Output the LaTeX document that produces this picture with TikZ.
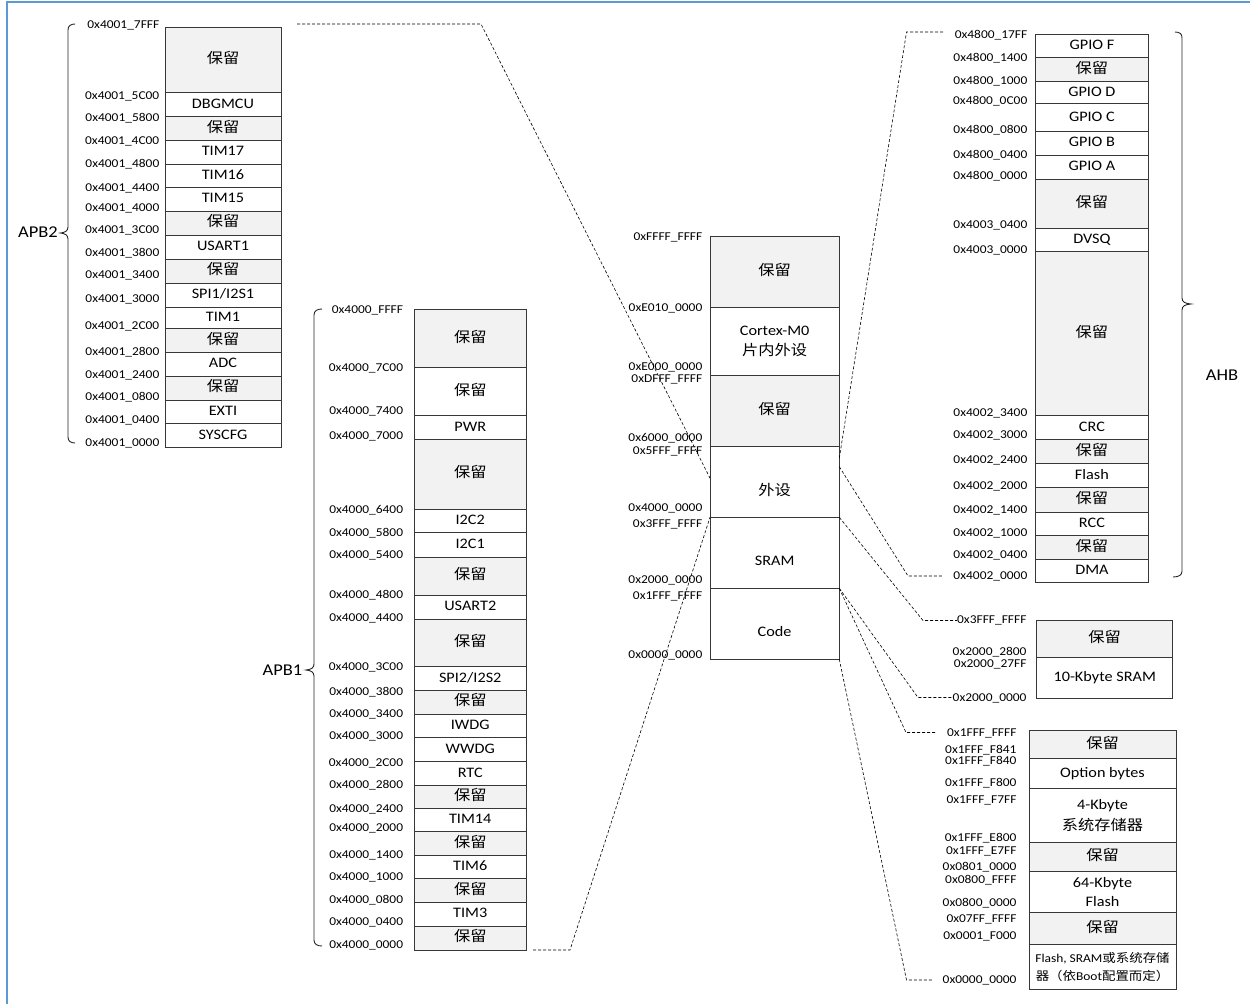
\documentclass[tikz,border=0pt]{standalone}
\usepackage{fontspec}
\usetikzlibrary{calc}
\setmainfont{Carlito}[FakeStretch=1.12]
\newfontfamily\cjkfont{Noto Sans CJK SC}[FakeStretch=1.12]
\newcommand\zh[1]{{\cjkfont #1}}
\newcommand\rsvtxt{\zh{保留}}
\newcommand\spione{SPI1/I2S1}
\newcommand\spitwo{SPI2/I2S2}
\definecolor{rsv}{RGB}{242,242,242}
\definecolor{framec}{RGB}{91,155,213}
\definecolor{edge}{RGB}{55,55,55}
\begin{document}
\begin{tikzpicture}[x=1pt,y=-1pt,
  cell/.style={draw=edge, line width=0.8pt, inner sep=0pt, outer sep=0pt, anchor=north west, align=center, text=black, font=\fontsize{14.5}{20}\selectfont},
  one/.style={text height=10.5pt, text depth=3pt},
  low/.style={text height=29pt, text depth=3pt},
  lab/.style={anchor=east, inner sep=0pt, font=\fontsize{12}{14}\selectfont, text=black},
  bus/.style={inner sep=0pt, font=\fontsize{16.5}{20}\selectfont},
  link/.style={draw=black, line width=0.6pt, dash pattern=on 3pt off 2pt},
  brc/.style={draw=black!85, line width=0.9pt}]
\useasboundingbox (0,0) rectangle (1250,1004);
% frame
\draw[framec, line width=1.6pt] (7,1004) -- (7,2) -- (1250,2);

% ---------------- APB2 ----------------
\foreach \yt/\yb/\fc/\tx [count=\i] in {27/92.7/rsv/\rsvtxt, 92.7/116.7/white/DBGMCU, 116.7/140/rsv/\rsvtxt, 140/164/white/TIM17, 164/187/white/TIM16, 187/211/white/TIM15, 211/235/rsv/\rsvtxt, 235/259/white/USART1, 259/283/rsv/\rsvtxt, 283/307/white/\spione, 307/328.5/white/TIM1, 328.5/352/rsv/\rsvtxt, 352/376/white/ADC, 376/400/rsv/\rsvtxt, 400/423.5/white/EXTI, 423.5/447/white/SYSCFG}
  \node[cell, one, fill=\fc, minimum width=116pt, minimum height={(\yb-\yt)*1pt}] (pb-\i) at (165,\yt) {\tx};
\foreach \yy/\tx [count=\i] in {25/0x4001\_7FFF, 96/0x4001\_5C00, 118/0x4001\_5800, 141.5/0x4001\_4C00, 164.5/0x4001\_4800, 188/0x4001\_4400, 208/0x4001\_4000, 230/0x4001\_3C00, 253/0x4001\_3800, 275/0x4001\_3400, 299/0x4001\_3000, 326/0x4001\_2C00, 352.5/0x4001\_2800, 375/0x4001\_2400, 397/0x4001\_0800, 420/0x4001\_0400, 443.5/0x4001\_0000}
  \node[lab] (lb-\i) at (159.5,\yy) {\tx};
\draw[brc] (75,24) .. controls (70.5,24) and (68,26) .. (68,30) -- (68,227) .. controls (68,231) and (65,232.5) .. (60.5,233) .. controls (65,233.5) and (68,235) .. (68,239) -- (68,437) .. controls (68,441) and (70.5,443) .. (75,443);
\node[bus] (apb2) at (38,232) {APB2};

% ---------------- APB1 ----------------
\foreach \yt/\yb/\fc/\tx [count=\i] in {309.3/367.7/rsv/\rsvtxt, 367.7/415.7/white/\rsvtxt, 415.7/439/white/PWR, 439/509.3/rsv/\rsvtxt, 509.3/532.7/white/I2C2, 532.7/557.3/white/I2C1, 557.3/595/rsv/\rsvtxt, 595/619/white/USART2, 619/666.7/rsv/\rsvtxt, 666.7/690/white/\spitwo, 690/714/rsv/\rsvtxt, 714/737.7/white/IWDG, 737.7/761.3/white/WWDG, 761.3/785.3/white/RTC, 785.3/808.7/rsv/\rsvtxt, 808.7/831.7/white/TIM14, 831.7/855.7/rsv/\rsvtxt, 855.7/878.7/white/TIM6, 878.7/902/rsv/\rsvtxt, 902/926/white/TIM3, 926/950/rsv/\rsvtxt}
  \node[cell, one, fill=\fc, minimum width=112.5pt, minimum height={(\yb-\yt)*1pt}] (pa-\i) at (414,\yt) {\tx};
\foreach \yy/\tx [count=\i] in {310/0x4000\_FFFF, 368.3/0x4000\_7C00, 411/0x4000\_7400, 436.7/0x4000\_7000, 510/0x4000\_6400, 533.3/0x4000\_5800, 555/0x4000\_5400, 595/0x4000\_4800, 618.3/0x4000\_4400, 667.5/0x4000\_3C00, 692/0x4000\_3800, 714.5/0x4000\_3400, 736.7/0x4000\_3000, 763/0x4000\_2C00, 785/0x4000\_2800, 809.5/0x4000\_2400, 828.3/0x4000\_2000, 855/0x4000\_1400, 877.3/0x4000\_1000, 900.2/0x4000\_0800, 922.7/0x4000\_0400, 945/0x4000\_0000}
  \node[lab] (la-\i) at (403.3,\yy) {\tx};
\draw[brc] (322,309) .. controls (317,309) and (314,311) .. (314,315) -- (314,664) .. controls (314,668) and (311,669.5) .. (306,670) .. controls (311,670.5) and (314,672) .. (314,676) -- (314,940) .. controls (314,944) and (317,946) .. (322,946);
\node[bus] (apb1) at (282.5,670) {APB1};

% ---------------- main map ----------------
\node[cell, one, fill=rsv, minimum width=129.3pt, minimum height=70.6pt] (m1) at (710,236.7) {\rsvtxt};
\node[cell, fill=white, minimum width=129.3pt, minimum height=68.4pt] (m2) at (710,307.3) {Cortex-M0\\\zh{片内外设}};
\node[cell, one, fill=rsv, minimum width=129.3pt, minimum height=71pt] (m3) at (710,375.7) {\rsvtxt};
\node[cell, low, fill=white, minimum width=129.3pt, minimum height=70.6pt] (m4) at (710,446.7) {\zh{外设}};
\node[cell, low, fill=white, minimum width=129.3pt, minimum height=71pt] (m5) at (710,517.3) {SRAM};
\node[cell, low, fill=white, minimum width=129.3pt, minimum height=71pt] (m6) at (710,588.3) {Code};
\foreach \yy/\tx [count=\i] in {237.5/0xFFFF\_FFFF, 308.3/0xE010\_0000, 367.5/0xE000\_0000, 379/0xDFFF\_FFFF, 438.3/0x6000\_0000, 451/0x5FFF\_FFFF, 508.3/0x4000\_0000, 524.5/0x3FFF\_FFFF, 580.5/0x2000\_0000, 596.7/0x1FFF\_FFFF, 655.5/0x0000\_0000}
  \node[lab] (lm-\i) at (702.5,\yy) {\tx};

% ---------------- AHB ----------------
\foreach \yt/\yb/\fc/\tx [count=\i] in {34/57.7/white/GPIO F, 57.7/81/rsv/\rsvtxt, 81/103.7/white/GPIO D, 103.7/131/white/GPIO C, 131/155.3/white/GPIO B, 155.3/179/white/GPIO A, 179/228/rsv/\rsvtxt, 228/251.7/white/DVSQ, 251.7/415.7/rsv/\rsvtxt, 415.7/439.3/white/CRC, 439.3/463.3/rsv/\rsvtxt, 463.3/487.3/white/Flash, 487.3/512/rsv/\rsvtxt, 512/535.7/white/RCC, 535.7/559.3/rsv/\rsvtxt, 559.3/582.3/white/DMA}
  \node[cell, one, fill=\fc, minimum width=112.8pt, minimum height={(\yb-\yt)*1pt}] (ph-\i) at (1035.5,\yt) {\tx};
\foreach \yy/\tx [count=\i] in {35/0x4800\_17FF, 58.3/0x4800\_1400, 81.7/0x4800\_1000, 101.7/0x4800\_0C00, 130/0x4800\_0800, 155/0x4800\_0400, 176.7/0x4800\_0000, 225/0x4003\_0400, 250/0x4003\_0000, 413.3/0x4002\_3400, 435/0x4002\_3000, 460/0x4002\_2400, 486.7/0x4002\_2000, 510/0x4002\_1400, 533.3/0x4002\_1000, 555/0x4002\_0400, 576.7/0x4002\_0000}
  \node[lab] (lh-\i) at (1027.5,\yy) {\tx};
\draw[brc] (1175,32) .. controls (1180,32) and (1182,34) .. (1182,38) -- (1182,298) .. controls (1182,302) and (1185,303.5) .. (1191,304) .. controls (1185,304.5) and (1182,306) .. (1182,310) -- (1182,571) .. controls (1182,575) and (1179,577) .. (1173,577);
\node[bus] (ahb) at (1222,375) {AHB};

% ---------------- SRAM detail ----------------
\node[cell, one, fill=rsv, minimum width=136pt, minimum height=37.3pt] (s1) at (1036.7,620) {\rsvtxt};
\node[cell, one, fill=white, minimum width=136pt, minimum height=41pt] (s2) at (1036.7,657.3) {10-Kbyte SRAM};
\foreach \yy/\tx [count=\i] in {620.7/0x3FFF\_FFFF, 651.7/0x2000\_2800, 664.5/0x2000\_27FF, 698.3/0x2000\_0000}
  \node[lab] (ls-\i) at (1026.7,\yy) {\tx};

% ---------------- Code detail ----------------
\node[cell, one, fill=rsv, minimum width=147pt, minimum height=28.7pt] (c1) at (1029,730) {\rsvtxt};
\node[cell, one, fill=white, minimum width=147pt, minimum height=29.3pt] (c2) at (1029,758.7) {Option bytes};
\node[cell, fill=white, minimum width=147pt, minimum height=54.3pt, font=\fontsize{14.5}{21}\selectfont] (c3) at (1029,788) {4-Kbyte\\\zh{系统存储器}};
\node[cell, one, fill=rsv, minimum width=147pt, minimum height=29pt] (c4) at (1029,842.3) {\rsvtxt};
\node[cell, fill=white, minimum width=147pt, minimum height=41.4pt, font=\fontsize{14.5}{19.5}\selectfont] (c5) at (1029,871.3) {64-Kbyte\\Flash};
\node[cell, one, fill=rsv, minimum width=147pt, minimum height=31.3pt] (c6) at (1029,912.7) {\rsvtxt};
\node[cell, fill=white, minimum width=147pt, minimum height=45.3pt, font=\fontsize{12}{18}\selectfont] (c7) at (1029,944) {Flash, SRAM\zh{或系统存储}\\\zh{器（依}Boot\zh{配置而定）}};
\foreach \yy/\tx [count=\i] in {733.3/0x1FFF\_FFFF, 750/0x1FFF\_F841, 760.7/0x1FFF\_F840, 783.5/0x1FFF\_F800, 800/0x1FFF\_F7FF, 838.5/0x1FFF\_E800, 851.3/0x1FFF\_E7FF, 866.7/0x0801\_0000, 880/0x0800\_FFFF, 903/0x0800\_0000, 919.5/0x07FF\_FFFF, 936.7/0x0001\_F000, 980/0x0000\_0000}
  \node[lab] (lc-\i) at (1016.7,\yy) {\tx};

% ---------------- dashed connectors ----------------
\coordinate (k1a) at (297,24);
\coordinate (k1b) at (481,24);
\coordinate (k1c) at ($(m4.north west)!0.445!(m4.south west)$);
\draw[link] (k1a) -- (k1b) -- (k1c);
\coordinate (k2a) at (533,950);
\coordinate (k2b) at (570,950);
\draw[link] (k2a) -- (k2b) -- (m4.south west);
\coordinate (k3a) at ($(m4.north east)+(0,11.5)$);
\coordinate (k3b) at (906.5,32);
\coordinate (k3c) at (943,32);
\draw[link] (k3a) -- (k3b) -- (k3c);
\coordinate (k4a) at ($(m4.north east)+(0,20)$);
\coordinate (k4b) at (908,576);
\coordinate (k4c) at (942,576);
\draw[link] (k4a) -- (k4b) -- (k4c);
\coordinate (k5b) at (923,620.5);
\coordinate (k5c) at (957,620.5);
\draw[link] (m5.north east) -- (k5b) -- (k5c);
\coordinate (k6b) at (918,697.5);
\coordinate (k6c) at (952,697.5);
\draw[link] (m6.north east) -- (k6b) -- (k6c);
\coordinate (k7b) at (906,732.5);
\coordinate (k7c) at (936,732.5);
\draw[link] (m6.north east) -- (k7b) -- (k7c);
\coordinate (k8b) at (906.5,980);
\coordinate (k8c) at (932,980);
\draw[link] (m6.south east) -- (k8b) -- (k8c);
\end{tikzpicture}
\end{document}
